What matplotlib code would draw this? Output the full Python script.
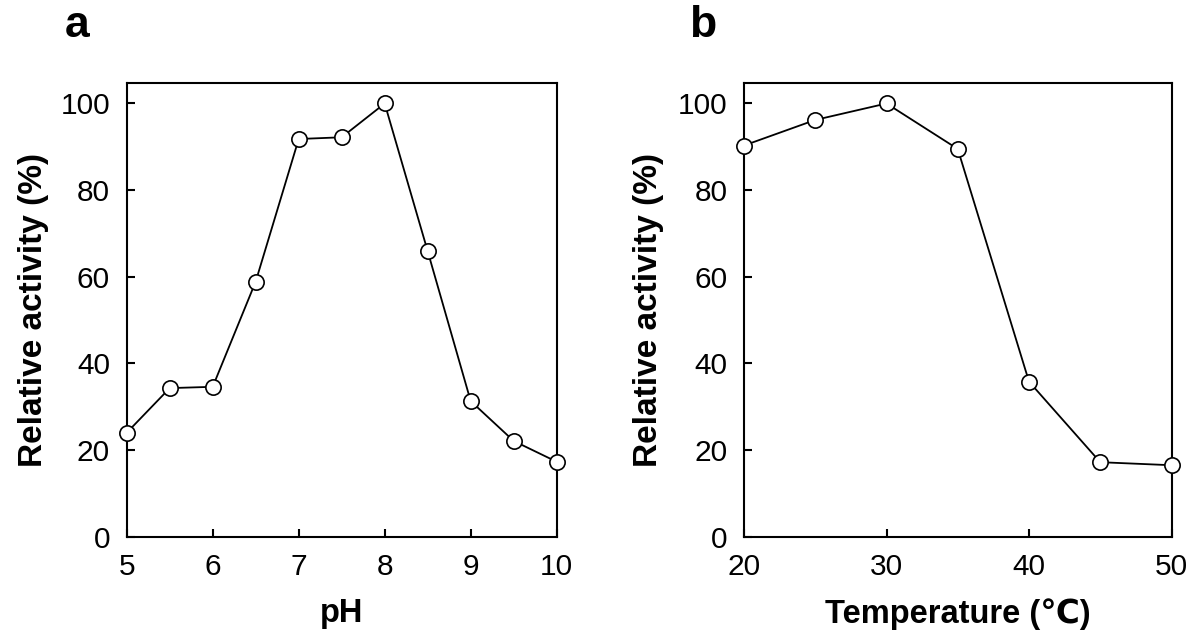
import matplotlib
matplotlib.use("Agg")
import matplotlib.pyplot as plt

# fuente tipo Helvetica, con respaldo para el signo ℃
plt.rcParams['font.family'] = ['Liberation Sans', 'DejaVu Sans']

# datos
ph = [5, 5.5, 6, 6.5, 7, 7.5, 8, 8.5, 9, 9.5, 10]
act_ph = [24.0, 34.3, 34.6, 58.9, 91.8, 92.2, 100, 65.9, 31.3, 22.1, 17.3]

temp = [20, 25, 30, 35, 40, 45, 50]
act_temp = [90.3, 96.2, 100, 89.5, 35.8, 17.2, 16.5]

ph_ticks = [5, 6, 7, 8, 9, 10]
temp_ticks = [20, 30, 40, 50]
y_ticks = [0, 20, 40, 60, 80, 100]

fig = plt.figure(figsize=(12, 6.44), dpi=100)
ax1 = fig.add_axes([0.1056, 0.1666, 0.3583, 0.705])
ax2 = fig.add_axes([0.62, 0.1666, 0.35625, 0.705])

line_kw = dict(color='black', lw=1.3, marker='o', ms=11,
               mfc='white', mec='black', mew=1.2, clip_on=False, zorder=3)

ax1.plot(ph, act_ph, **line_kw)
ax2.plot(temp, act_temp, **line_kw)

ax1.set_xlim(5, 10)
ax1.set_xticks(ph_ticks)
ax2.set_xlim(20, 50)
ax2.set_xticks(temp_ticks)

for ax in (ax1, ax2):
    ax.set_ylim(0, 104.8)
    ax.set_yticks(y_ticks)
    for s in ax.spines.values():
        s.set_linewidth(1.5)
    ax.tick_params(direction='in', length=6, width=1.5, labelsize=21.5, pad=11.5)
    ax.tick_params(axis='y', pad=12)
    ax.set_ylabel('Relative activity (%)', fontsize=24, fontweight='bold')

ax1.yaxis.set_label_coords(-0.18, 0.5)
ax2.yaxis.set_label_coords(-0.187, 0.5)

ax1.set_xlabel('pH', fontsize=23.5, fontweight='bold')
ax2.set_xlabel('Temperature (℃)', fontsize=23.5, fontweight='bold')
ax1.xaxis.set_label_coords(0.5, -0.135)
ax2.xaxis.set_label_coords(0.5, -0.135)

# letras de panel
fig.text(0.054, 1 - 37 / 644, 'a', fontsize=32, fontweight='bold', va='baseline')
fig.text(0.574, 1 - 37 / 644, 'b', fontsize=32, fontweight='bold', va='baseline')

fig.savefig('out.png', dpi=100)
